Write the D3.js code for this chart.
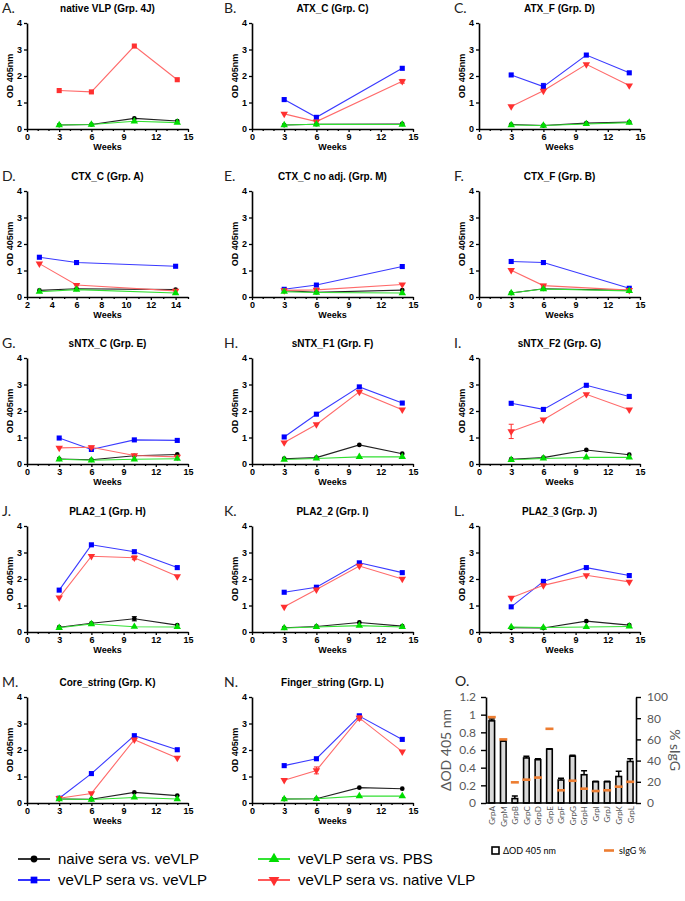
<!DOCTYPE html>
<html><head><meta charset="utf-8">
<script src="https://cdn.jsdelivr.net/npm/d3@7"></script>
<style>body{margin:0;background:#fff}svg{display:block}</style>
</head><body><svg id="c" width="685" height="901"></svg>
<script>
// ---------- data ----------
const panelLetters = ["A.","B.","C.","D.","E.","F.","G.","H.","I.","J.","K.","L.","M.","N."];
const panelTitles = ["native VLP (Grp. 4J)","ATX_C (Grp. C)","ATX_F (Grp. D)","CTX_C (Grp. A)","CTX_C no adj. (Grp. M)","CTX_F (Grp. B)","sNTX_C (Grp. E)","sNTX_F1 (Grp. F)","sNTX_F2 (Grp. G)","PLA2_1 (Grp. H)","PLA2_2 (Grp. I)","PLA2_3 (Grp. J)","Core_string (Grp. K)","Finger_string (Grp. L)"];
const W4 = [3,6,10,14], W3 = [3,6,14];
const panelWeeks = [W4,W3,W4,W3,W3,W3,W4,W4,W4,W4,W4,W4,W4,W4];
const xDomains = [[0,15],[0,15],[0,15],[2,15],[0,15],[0,15],[0,15],[0,15],[0,15],[0,15],[0,15],[0,15],[0,15],[0,15]];
const xTicksStd = [0,3,6,9,12,15];
const xTicksD = [2,4,6,8,10,12,14];
const yTicks = [0,1,2,3,4];

const naiveSera = [
  [0.15,0.17,0.40,0.30],[0.15,0.18,0.19],[0.17,0.13,0.22,0.26],[0.25,0.31,0.28],[0.24,0.18,0.26],[0.15,0.31,0.25],
  [0.19,0.16,0.31,0.36],[0.20,0.24,0.72,0.39],[0.18,0.24,0.53,0.35],[0.18,0.33,0.50,0.26],[0.16,0.21,0.36,0.22],
  [0.16,0.15,0.41,0.26],[0.15,0.14,0.40,0.28],[0.15,0.16,0.58,0.54]];
const veVLPvsVeVLP = [
  null,[1.11,0.44,2.29],[2.04,1.60,2.79,2.12],[1.50,1.30,1.16],[0.29,0.45,1.15],[1.34,1.30,0.33],
  [0.98,0.55,0.91,0.89],[1.02,1.88,2.91,2.30],[2.29,2.06,2.97,2.55],[1.58,3.29,3.03,2.43],[1.50,1.69,2.61,2.24],
  [0.95,1.91,2.43,2.13],[0.18,1.11,2.54,2.01],[1.41,1.67,3.28,2.40]];
const veVLPvsPBS = [
  [0.15,0.17,0.29,0.24],[0.15,0.18,0.17],[0.15,0.13,0.19,0.24],[0.20,0.28,0.15],[0.20,0.17,0.15],[0.15,0.30,0.23],
  [0.18,0.14,0.18,0.20],[0.17,0.21,0.27,0.27],[0.16,0.21,0.25,0.25],[0.16,0.30,0.20,0.19],[0.15,0.19,0.24,0.19],
  [0.19,0.17,0.19,0.21],[0.15,0.13,0.21,0.15],[0.15,0.16,0.26,0.26]];
const veVLPvsNative = [
  [1.45,1.40,3.13,1.86],[0.57,0.28,1.80],[0.85,1.44,2.44,1.64],[1.26,0.45,0.23],[0.25,0.27,0.47],[1.01,0.43,0.26],
  [0.61,0.63,0.32,0.27],[0.81,1.49,2.72,2.05],[1.23,1.67,2.63,2.05],[1.30,2.86,2.80,2.10],[0.95,1.60,2.49,2.00],
  [1.29,1.76,2.14,1.89],[0.18,0.36,2.39,1.70],[0.86,1.23,3.21,1.94]];
// red series marker per panel (panel A uses squares)
const nativeMarkers = ["square","down","down","down","down","down","down","down","down","down","down","down","down","down"];
// error bars: [panel index, series key, week, +/- err]
const errorBars = [
  [1,"native",14,0.07],[2,"blue",6,0.12],[5,"native",6,0.05],[6,"native",6,0.05],[8,"native",3,0.27],
  [9,"naive",10,0.08],[9,"native",10,0.07],[13,"native",6,0.13],[13,"blue",10,0.08],[13,"native",10,0.08]];

// panel O
const oGroups = ["GrpA","GrpM","GrpB","GrpC","GrpD","GrpE","GrpF","GrpG","GrpH","GrpI","GrpJ","GrpK","GrpL"];
const deltaOD = [0.93,0.70,0.05,0.51,0.49,0.61,0.26,0.53,0.32,0.24,0.24,0.30,0.47];
const deltaODErr = [0.02,0.01,0.03,0.02,0.01,0.005,0.02,0.01,0.045,0.005,0.005,0.06,0.03];
const sIgGPct = [81,60,19.5,22,24,70,12,21,13.5,11.3,12,15.4,20];
const oLeftTicks = [0,0.2,0.4,0.6,0.8,1.0,1.2];
const oRightTicks = [0,20,40,60,80,100];

const legendLabels = ["naive sera vs. veVLP","veVLP sera vs. veVLP","veVLP sera vs. PBS","veVLP sera vs. native VLP"];

// ---------- styles ----------
const series = {
  naive:  {data: naiveSera,     marker:"circle", fill:"#000000", line:"#222222"},
  blue:   {data: veVLPvsVeVLP,  marker:"square", fill:"#0000ff", line:"#3a3aff"},
  green:  {data: veVLPvsPBS,    marker:"up",     fill:"#00dd00", line:"#33e033"},
  native: {data: veVLPvsNative, marker:"down",   fill:"#ff3030", line:"#ff6a6a"}
};
const drawOrder = ["naive","blue","native","green"];
const ARIAL = "'Liberation Sans', Arial, sans-serif";
const CAL = "Lato, 'Open Sans', sans-serif";

const svg = d3.select("#c");
svg.append("rect").attr("width",685).attr("height",901).attr("fill","#fff");

const colX = [27,252,479];
const letterX = [2,224,454];
const rowY0 = [129,297,464,632,803];
const plotW = 161, plotH = 106;

function symPath(type, size){
  if(type==="circle") return d3.symbol(d3.symbolCircle, size*0.8)();
  if(type==="square") return d3.symbol(d3.symbolSquare, size)();
  return d3.symbol(d3.symbolTriangle, size*1.1)();
}
function drawMarker(g, type, x, y, fill, size){
  g.append("path").attr("d", symPath(type,size))
   .attr("transform", `translate(${x},${y})` + (type==="down" ? " rotate(180)" : ""))
   .attr("fill", fill);
}

panelTitles.forEach((title,i)=>{
  const col = i%3, row = Math.floor(i/3);
  const x0 = colX[col], yb = rowY0[row];
  const g = svg.append("g");
  const xs = d3.scaleLinear().domain(xDomains[i]).range([x0, x0+plotW]);
  const ys = d3.scaleLinear().domain([0,4]).range([yb, yb-plotH]);

  g.append("text").text(panelLetters[i]).attr("x", letterX[col]).attr("y", yb-116)
    .attr("font-family", CAL).attr("font-size", 14).attr("fill","#222");
  g.append("text").text(title).attr("x", x0+plotW/2).attr("y", yb-117).attr("text-anchor","middle")
    .attr("font-family", ARIAL).attr("font-weight","bold").attr("font-size", 10);

  // axes
  const xt = i===3 ? xTicksD : xTicksStd;
  const minor = d3.range(xDomains[i][0], xDomains[i][1]+1).filter(v=>!xt.includes(v) && v<=15);
  g.append("g").attr("transform",`translate(0,${yb})`)
    .call(d3.axisBottom(xs).tickValues(xt).tickSize(3).tickPadding(2).tickSizeOuter(0).tickFormat(d3.format("d")));
  g.append("g").attr("transform",`translate(0,${yb})`)
    .call(d3.axisBottom(xs).tickValues(minor).tickSize(2).tickFormat("").tickSizeOuter(0))
    .select(".domain").remove();
  g.append("g").attr("transform",`translate(${x0},0)`)
    .call(d3.axisLeft(ys).tickValues(yTicks).tickSize(3).tickPadding(2).tickSizeOuter(0).tickFormat(d3.format("d")));
  g.selectAll(".domain").attr("stroke","#000").attr("stroke-width",1.6);
  g.selectAll(".tick line").attr("stroke","#000").attr("stroke-width",1.3);
  g.selectAll(".tick text").attr("font-family",ARIAL).attr("font-weight","bold").attr("font-size",9).attr("fill","#000");

  g.append("text").text("Weeks").attr("x", x0+plotW/2).attr("y", yb+21).attr("text-anchor","middle")
    .attr("font-family", ARIAL).attr("font-weight","bold").attr("font-size", 9);
  g.append("text").text("OD 405nm").attr("transform",`translate(${x0-14},${yb-plotH/2}) rotate(-90)`)
    .attr("text-anchor","middle").attr("font-family", ARIAL).attr("font-weight","bold").attr("font-size", 9);

  const weeks = panelWeeks[i];
  drawOrder.forEach(key=>{
    const s = series[key];
    const vals = s.data[i];
    if(!vals) return;
    const pts = weeks.map((w,j)=>[xs(w), ys(vals[j])]);
    g.append("path").attr("d", d3.line()(pts)).attr("fill","none")
      .attr("stroke", s.line).attr("stroke-width",1.1);
    errorBars.filter(e=>e[0]===i && e[1]===key).forEach(e=>{
      const j = weeks.indexOf(e[2]);
      const x = xs(e[2]), y1 = ys(vals[j]-e[3]), y2 = ys(vals[j]+e[3]);
      g.append("path").attr("d",`M${x},${y1}V${y2}M${x-2.5},${y1}H${x+2.5}M${x-2.5},${y2}H${x+2.5}`)
        .attr("stroke", s.fill).attr("stroke-width",1).attr("fill","none");
    });
    const mk = key==="native" ? nativeMarkers[i] : s.marker;
    pts.forEach(p=>drawMarker(g, mk, p[0], p[1], s.fill, mk==="square"?26:22));
  });
});

// ---------- legend ----------
const legendPos = [[18,859],[18,880],[258,859],[258,880]];
const legendKeys = ["naive","blue","green","native"];
legendKeys.forEach((k,i)=>{
  const [lx,ly] = legendPos[i];
  const s = series[k];
  const g = svg.append("g");
  g.append("line").attr("x1",lx).attr("x2",lx+32).attr("y1",ly).attr("y2",ly)
    .attr("stroke", k==="naive"?"#000":s.fill).attr("stroke-width",1.6);
  drawMarker(g, s.marker, lx+16, ly, s.fill, 45);
  g.append("text").text(legendLabels[i]).attr("x", lx+40).attr("y", ly+5)
    .attr("font-family", ARIAL).attr("font-size", 15).attr("fill","#000");
});

// ---------- panel O ----------
(function(){
  const g = svg.append("g");
  const left = 486, right = 636, yb = 803, yt = 697;
  const gray = "#595959";
  g.append("text").text("O.").attr("x",455).attr("y",686).attr("font-family",CAL).attr("font-size",14).attr("fill","#222");
  const xb = d3.scalePoint().domain(oGroups).range([left,right]).padding(0.5);
  const yL = d3.scaleLinear().domain([0,1.2]).range([yb,yt]);
  const yR = d3.scaleLinear().domain([0,100]).range([yb,yt]);

  oGroups.forEach((grp,i)=>{
    const cx = xb(grp);
    g.append("rect").attr("x",cx-2.8).attr("y",yL(deltaOD[i])).attr("width",5.6).attr("height",yb-yL(deltaOD[i]))
      .attr("fill","#d9d9d9").attr("stroke","#000").attr("stroke-width",1.6);
    const e1 = yL(deltaOD[i]+deltaODErr[i]);
    g.append("path").attr("d",`M${cx},${yL(deltaOD[i])}V${e1}M${cx-3},${e1}H${cx+3}`)
      .attr("stroke","#000").attr("stroke-width",1.5).attr("fill","none");
    g.append("line").attr("x1",cx-4).attr("x2",cx+4).attr("y1",yR(sIgGPct[i])).attr("y2",yR(sIgGPct[i]))
      .attr("stroke","#ed7d31").attr("stroke-width",2.6);
  });

  const la = g.append("g").attr("transform",`translate(${left},0)`)
    .call(d3.axisLeft(yL).tickValues(oLeftTicks).tickSize(5).tickPadding(5).tickSizeOuter(0)
      .tickFormat(d=> d===0?"0":(d===1?"1":d3.format(".1f")(d))));
  const ra = g.append("g").attr("transform",`translate(${right},0)`)
    .call(d3.axisRight(yR).tickValues(oRightTicks).tickSize(5).tickPadding(6).tickSizeOuter(0).tickFormat(d3.format("d")));
  const ba = g.append("g").attr("transform",`translate(0,${yb})`)
    .call(d3.axisBottom(xb).tickSize(0).tickPadding(4).tickSizeOuter(0));
  ba.select(".domain").attr("d",`M${left},0H${right}`);
  ba.selectAll(".tick text").attr("transform","rotate(-90)").attr("text-anchor","end")
    .attr("dx","-0.4em").attr("dy","0.35em").attr("x",0).attr("y",0)
    .attr("font-size",8).attr("fill",gray).attr("font-family",CAL);
  [la,ra,ba].forEach(a=>{
    a.selectAll(".domain").attr("stroke","#000").attr("stroke-width",1.6);
    a.selectAll(".tick line").attr("stroke","#000").attr("stroke-width",1.4);
  });
  [la,ra].forEach(a=>a.selectAll(".tick text").attr("font-family",CAL).attr("font-size",12).attr("fill",gray));

  g.append("text").text("ΔOD 405 nm").attr("transform",`translate(451,750) rotate(-90)`).attr("text-anchor","middle")
    .attr("font-family",CAL).attr("font-size",14).attr("fill",gray);
  g.append("text").text("% sIgG").attr("transform",`translate(670,750) rotate(90)`).attr("text-anchor","middle")
    .attr("font-family",CAL).attr("font-size",14).attr("fill",gray);

  g.append("rect").attr("x",492).attr("y",847).attr("width",7).attr("height",7)
    .attr("fill","#fff").attr("stroke","#000").attr("stroke-width",1.6);
  g.append("text").text("ΔOD 405 nm").attr("x",503).attr("y",854).attr("font-family",CAL).attr("font-size",9).attr("fill","#000");
  g.append("line").attr("x1",604).attr("x2",614).attr("y1",850.5).attr("y2",850.5).attr("stroke","#ed7d31").attr("stroke-width",2.6);
  g.append("text").text("sIgG %").attr("x",619).attr("y",854).attr("font-family",CAL).attr("font-size",9).attr("fill","#000");
})();
</script>
</body></html>
